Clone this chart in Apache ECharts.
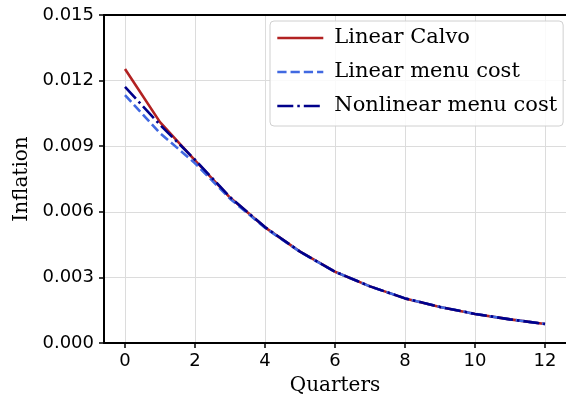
<!DOCTYPE html>
<html>
<head>
<meta charset="utf-8">
<script src="https://cdn.jsdelivr.net/npm/echarts@6/dist/echarts.min.js"></script>
<style>html,body{margin:0;padding:0;background:#fff}#c{width:566px;height:408px}</style>
</head>
<body>
<div id="c"></div>
<script>
const quarters = [0,1,2,3,4,5,6,7,8,9,10,11,12];
const linearCalvo = [0.01253,0.01010,0.00835,0.00665,0.00529,0.00418,0.00326,0.00259,0.00204,0.00165,0.00133,0.00108,0.00087];
const linearMenu  = [0.01134,0.00960,0.00822,0.00660,0.00527,0.00417,0.00326,0.00259,0.00204,0.00165,0.00133,0.00108,0.00087];
const nonlinearMenu = [0.01171,0.00998,0.00838,0.00667,0.00530,0.00418,0.00326,0.00259,0.00204,0.00165,0.00133,0.00108,0.00087];
const xTicks = [0,2,4,6,8,10,12];
const yTicks = [0.000,0.003,0.006,0.009,0.012,0.015];
const seriesNames = ['Linear Calvo','Linear menu cost','Nonlinear menu cost'];

const pair = (ys) => quarters.map((q,i)=>[q, ys[i]]);
const chart = echarts.init(document.getElementById('c'), null, {renderer:'canvas'});
const serif = 'DejaVu Serif';
const sans = 'DejaVu Sans';
chart.setOption({
  animation: false,
  backgroundColor: '#fff',
  grid: {left: 104, right: 0, top: 15, bottom: 65, containLabel: false},
  xAxis: [{
    type: 'value', min: -0.6, max: 12.6, interval: 2,
    name: 'Quarters', nameLocation: 'middle', nameGap: 33,
    nameTextStyle: {fontFamily: serif, fontSize: 20, color: '#000'},
    axisLine: {show: true, onZero: false, lineStyle: {color: '#000', width: 2}},
    axisTick: {show: true, length: 5, lineStyle: {color: '#000', width: 1.5}, customValues: xTicks},
    axisLabel: {fontFamily: sans, fontSize: 18, color: '#000', margin: 9, customValues: xTicks,
      formatter: v => String(v), showMinLabel: true, showMaxLabel: true},
    splitLine: {show: true, lineStyle: {color: '#dcdcdc', width: 1}},
  },{
    type: 'value', position: 'top', min: -0.6, max: 12.6,
    axisLine: {show: true, onZero: false, lineStyle: {color: '#000', width: 2}},
    axisTick: {show: false}, axisLabel: {show: false}, splitLine: {show: false}
  }],
  yAxis: {
    type: 'value', min: 0, max: 0.015, interval: 0.003,
    name: 'Inflation', nameLocation: 'middle', nameGap: 61, nameRotate: 90,
    nameTextStyle: {fontFamily: serif, fontSize: 20, color: '#000'},
    axisLine: {show: true, onZero: false, lineStyle: {color: '#000', width: 2}},
    axisTick: {show: true, length: 5, lineStyle: {color: '#000', width: 1.5}},
    axisLabel: {fontFamily: sans, fontSize: 18, color: '#000', margin: 10, formatter: v => v.toFixed(3)},
    splitLine: {show: true, lineStyle: {color: '#dcdcdc', width: 1}},
  },
  legend: {
    orient: 'vertical', left: 270, top: 21,
    data: seriesNames,
    backgroundColor: 'rgba(255,255,255,0.85)',
    borderColor: '#d0d0d0', borderWidth: 1, borderRadius: 4,
    padding: [5, 6, 8, 6],
    itemWidth: 46, itemHeight: 14, itemGap: 10,
    itemStyle: {opacity: 0, borderWidth: 0},
    lineStyle: {width: 2.6},
    textStyle: {fontFamily: serif, fontSize: 21, color: '#000', lineHeight: 24, padding: [0,0,0,6]},
  },
  series: [
    {name: seriesNames[0], type: 'line', data: pair(linearCalvo), symbol: 'none', smooth: false,
     lineStyle: {color: '#b22222', width: 2.6, type: 'solid'}, itemStyle: {color: '#b22222'}, z: 2},
    {name: seriesNames[1], type: 'line', data: pair(linearMenu), symbol: 'none',
     lineStyle: {color: '#4169e1', width: 2.6, type: [9.25, 4]}, itemStyle: {color: '#4169e1'}, z: 3},
    {name: seriesNames[2], type: 'line', data: pair(nonlinearMenu), symbol: 'none',
     lineStyle: {color: '#00008b', width: 2.6, type: [16, 4, 2.5, 4]}, itemStyle: {color: '#00008b'}, z: 4},
  ]
});
</script>
</body>
</html>
